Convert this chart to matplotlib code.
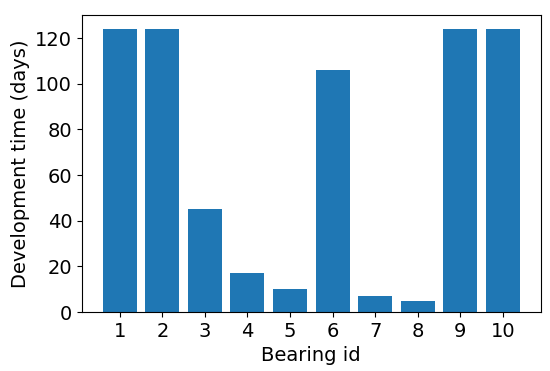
import matplotlib
matplotlib.use("Agg")
import matplotlib.pyplot as plt

bearing_ids = [1, 2, 3, 4, 5, 6, 7, 8, 9, 10]
dev_time = [124, 124, 45, 17, 10, 106, 7, 5, 124, 124]

fig = plt.figure(figsize=(5.5, 3.71), dpi=100)
ax = fig.add_subplot(111)
fig.subplots_adjust(left=0.149, right=0.983, top=0.96, bottom=0.159)

ax.bar(bearing_ids, dev_time, color='#1f77b4')
ax.set_xticks(bearing_ids)
ax.set_xlabel("Bearing id", fontsize=14)
ax.set_ylabel("Development time (days)", fontsize=14)
ax.tick_params(labelsize=14)

plt.savefig("out.png", dpi=100)
